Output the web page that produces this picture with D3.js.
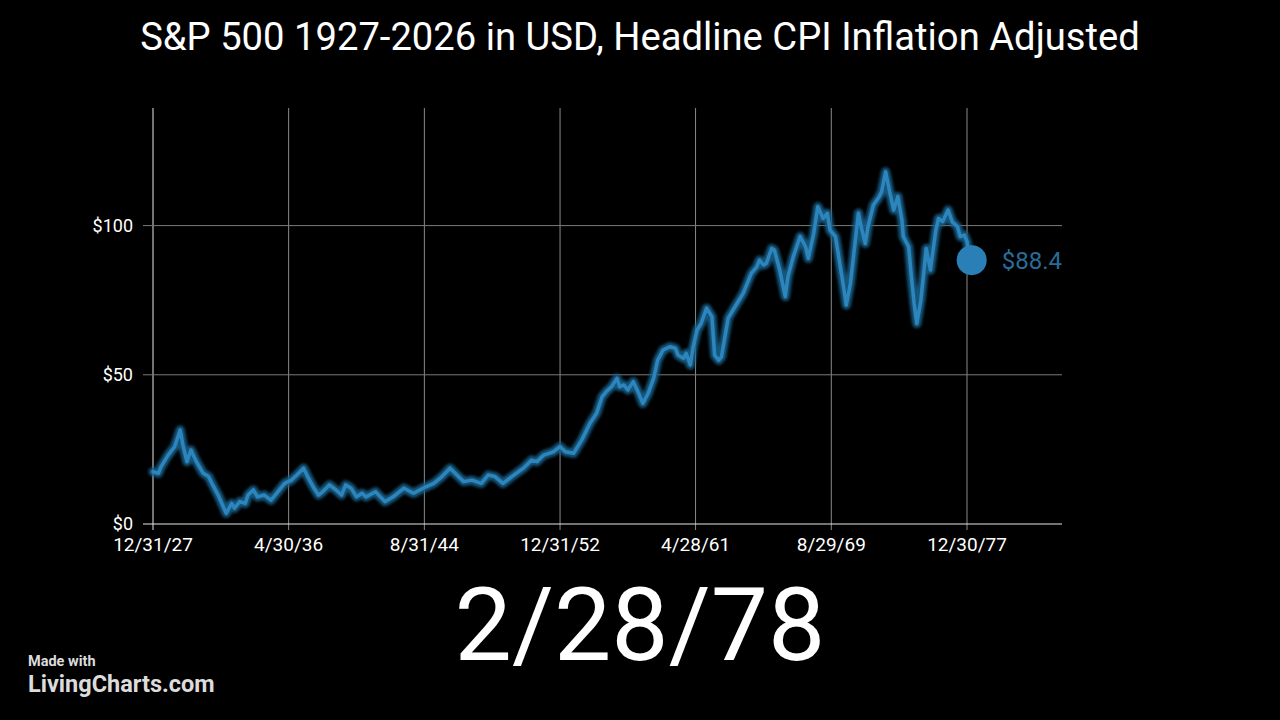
<!DOCTYPE html>
<html>
<head>
<meta charset="utf-8">
<script src="https://cdn.jsdelivr.net/npm/d3@7"></script>
<style>
  html, body { margin: 0; padding: 0; background: #000; }
  svg { display: block; }
  text { font-family: Roboto, "Noto Sans", sans-serif; }
</style>
</head>
<body>
<svg id="chart" width="1280" height="720"></svg>
<script>
// ---- data ----
const title = "S&P 500 1927-2026 in USD, Headline CPI Inflation Adjusted";
const currentLabel = "2/28/78";
const dates = [
  "1927-12","1928-04","1928-06","1928-11","1929-04","1929-08","1929-10","1930-01","1930-04","1930-08",
  "1931-01","1931-05","1931-08","1931-12","1932-06","1932-10","1932-12","1933-04","1933-08","1933-10",
  "1934-02","1934-05","1934-10","1935-03","1935-08","1936-01","1936-06","1936-10","1937-03","1937-06",
  "1937-10","1938-02","1938-05","1938-10","1939-03","1939-07","1939-10","1940-02","1940-06","1940-10",
  "1941-01","1941-08","1942-03","1942-09","1943-05","1943-12","1944-07","1945-03","1945-09","1946-03",
  "1946-08","1947-01","1947-07","1948-02","1948-07","1948-12","1949-06","1950-02","1950-09","1951-03",
  "1951-07","1951-12","1952-07","1952-12","1953-04","1953-10","1954-04","1954-10","1955-03","1955-07",
  "1955-10","1956-02","1956-06","1956-08","1956-11","1957-02","1957-06","1957-10","1958-01","1958-05",
  "1958-09","1958-12","1959-04","1959-09","1960-01","1960-03","1960-07","1960-09","1960-12","1961-02",
  "1961-05","1961-08","1961-12","1962-04","1962-06","1962-09","1962-11","1963-04","1963-09","1964-03",
  "1964-09","1965-01","1965-03","1965-06","1965-08","1965-12","1966-02","1966-06","1966-10","1966-12",
  "1967-04","1967-09","1968-01","1968-03","1968-07","1968-10","1969-02","1969-05","1969-07","1969-11",
  "1970-01","1970-05","1970-07","1970-10","1970-12","1971-04","1971-06","1971-09","1971-11","1972-03",
  "1972-07","1972-09","1972-12","1973-03","1973-06","1973-09","1973-12","1974-01","1974-05","1974-07",
  "1974-09","1974-11","1975-02","1975-06","1975-09","1976-01","1976-03","1976-06","1976-10","1977-01",
  "1977-05","1977-07","1977-10","1977-12","1978-01","1978-02"
];
const values = [
  17.5,17.0,19.2,23.0,25.9,31.5,26.5,20.9,24.8,20.9,
  17.0,15.9,13.1,9.7,3.6,6.9,5.3,7.5,6.9,9.7,
  11.4,9.1,9.7,8.0,10.8,13.6,14.7,16.4,18.7,15.9,
  12.5,9.7,10.8,13.1,11.4,9.7,13.1,12.0,9.1,10.3,
  9.1,10.8,7.5,9.1,12.0,10.3,12.0,13.6,15.9,18.7,
  16.4,14.2,14.7,13.6,16.4,15.9,13.6,16.4,18.7,21.4,
  20.9,23.1,24.2,25.9,24.2,23.7,28.1,33.7,37.1,42.6,
  44.3,46.0,48.8,46.0,46.6,44.9,47.7,43.8,40.4,43.8,
  48.8,54.9,58.3,59.4,58.9,56.6,55.5,57.2,53.3,58.9,
  65.0,67.2,72.3,69.5,56.6,54.9,56.0,69.0,72.8,77.3,
  84.0,86.2,88.4,86.8,87.3,92.3,91.8,85.1,76.2,82.9,
  89.6,96.3,92.9,89.0,97.4,106.3,102.4,104.1,98.5,96.3,
  90.7,79.5,73.4,80.6,88.4,104.1,99.6,94.0,99.6,106.9,
  109.5,111.3,118.0,111.3,105.2,109.7,101.8,96.3,92.9,82.9,
  74.0,67.2,75.0,92.3,85.1,98.5,102.4,101.3,105.2,101.3,
  99.6,96.3,96.8,94.6,91.0,88.4
];
const xTickDates = ["1927-12-31","1936-04-30","1944-08-31","1952-12-31","1961-04-28","1969-08-29","1977-12-30"];
const xTickLabels = ["12/31/27","4/30/36","8/31/44","12/31/52","4/28/61","8/29/69","12/30/77"];
const yTickValues = [0, 50, 100];
const yTickLabels = ["$0", "$50", "$100"];
const xDomain = ["1927-12-31", "1983-10-31"];
const yDomain = [0, 139.4];

// ---- layout ----
const W = 1280, H = 720;
const m = { left: 153, right: 218, top: 108, bottom: 196 };
const lineColor = "#2c86bd";

const parseMonth = d3.timeParse("%Y-%m");
const parseDay = d3.timeParse("%Y-%m-%d");
const monthEnd = s => { const d = parseMonth(s); return new Date(d.getFullYear(), d.getMonth() + 1, 0); };
const data = dates.map((s, i) => ({ date: monthEnd(s), value: values[i] }));

const svg = d3.select("#chart");
svg.append("rect").attr("width", W).attr("height", H).attr("fill", "#000");

const x = d3.scaleTime()
  .domain(xDomain.map(parseDay))
  .range([m.left, W - m.right]);
const y = d3.scaleLinear()
  .domain(yDomain)
  .range([H - m.bottom, m.top]);

const defs = svg.append("defs");
const f = defs.append("filter").attr("id", "glow").attr("x", "-5%").attr("y", "-5%").attr("width", "110%").attr("height", "110%");
f.append("feGaussianBlur").attr("stdDeviation", 1.8);

// title
svg.append("text")
  .attr("x", W / 2).attr("y", 50)
  .attr("text-anchor", "middle")
  .attr("fill", "#fff")
  .attr("font-size", 38.2)
  .text(title);

// gridlines
const grid = svg.append("g");
grid.selectAll(".vgrid").data(xTickDates.map(parseDay)).join("line")
  .attr("x1", d => x(d)).attr("x2", d => x(d))
  .attr("y1", m.top).attr("y2", y(0) + 6)
  .attr("stroke", (d, i) => i === 0 ? "#e6e6e6" : "#8a8a8a")
  .attr("stroke-width", 1);
grid.selectAll(".hgrid").data(yTickValues).join("line")
  .attr("x1", m.left - 10).attr("x2", W - m.right)
  .attr("y1", d => y(d)).attr("y2", d => y(d))
  .attr("stroke", d => d === 0 ? "#e6e6e6" : "#7a7a7a")
  .attr("stroke-width", 1);

// y labels
svg.append("g").selectAll("text").data(yTickValues).join("text")
  .attr("x", m.left - 20).attr("y", d => y(d))
  .attr("dy", "0.35em")
  .attr("text-anchor", "end")
  .attr("fill", "#fff")
  .attr("font-size", 18)
  .text((d, i) => yTickLabels[i]);

// x labels
svg.append("g").selectAll("text").data(xTickDates.map(parseDay)).join("text")
  .attr("x", d => x(d)).attr("y", y(0) + 27)
  .attr("text-anchor", "middle")
  .attr("fill", "#fff")
  .attr("font-size", 19)
  .text((d, i) => xTickLabels[i]);

// line
const line = d3.line().x(d => x(d.date)).y(d => y(d.value));
svg.append("path").datum(data)
  .attr("d", line)
  .attr("fill", "none")
  .attr("stroke", "#1b5f8a")
  .attr("stroke-opacity", 0.9)
  .attr("stroke-width", 9)
  .attr("stroke-linejoin", "round")
  .attr("stroke-linecap", "round")
  .attr("filter", "url(#glow)");
svg.append("path").datum(data)
  .attr("d", line)
  .attr("fill", "none")
  .attr("stroke", lineColor)
  .attr("stroke-width", 3.5)
  .attr("stroke-linejoin", "round")
  .attr("stroke-linecap", "round");

// end dot and value label
const last = data[data.length - 1];
svg.append("circle")
  .attr("cx", x(last.date) + 2).attr("cy", y(last.value))
  .attr("r", 15)
  .attr("fill", "#2a80b6");
svg.append("text")
  .attr("x", x(last.date) + 32).attr("y", y(last.value))
  .attr("dy", "0.35em")
  .attr("fill", "#2a6c99")
  .attr("font-size", 24)
  .text("$" + d3.format(".1f")(last.value));

// current date
svg.append("text")
  .attr("x", W / 2).attr("y", 660)
  .attr("text-anchor", "middle")
  .attr("fill", "#fff")
  .attr("font-size", 102)
  .text(currentLabel);

// watermark
svg.append("text")
  .attr("x", 28).attr("y", 666)
  .attr("fill", "#dcdcdc")
  .attr("font-size", 14.5)
  .attr("font-weight", 700)
  .text("Made with");
svg.append("text")
  .attr("x", 28).attr("y", 692)
  .attr("fill", "#dcdcdc")
  .attr("font-size", 23.5)
  .attr("font-weight", 700)
  .text("LivingCharts.com");
</script>
</body>
</html>
